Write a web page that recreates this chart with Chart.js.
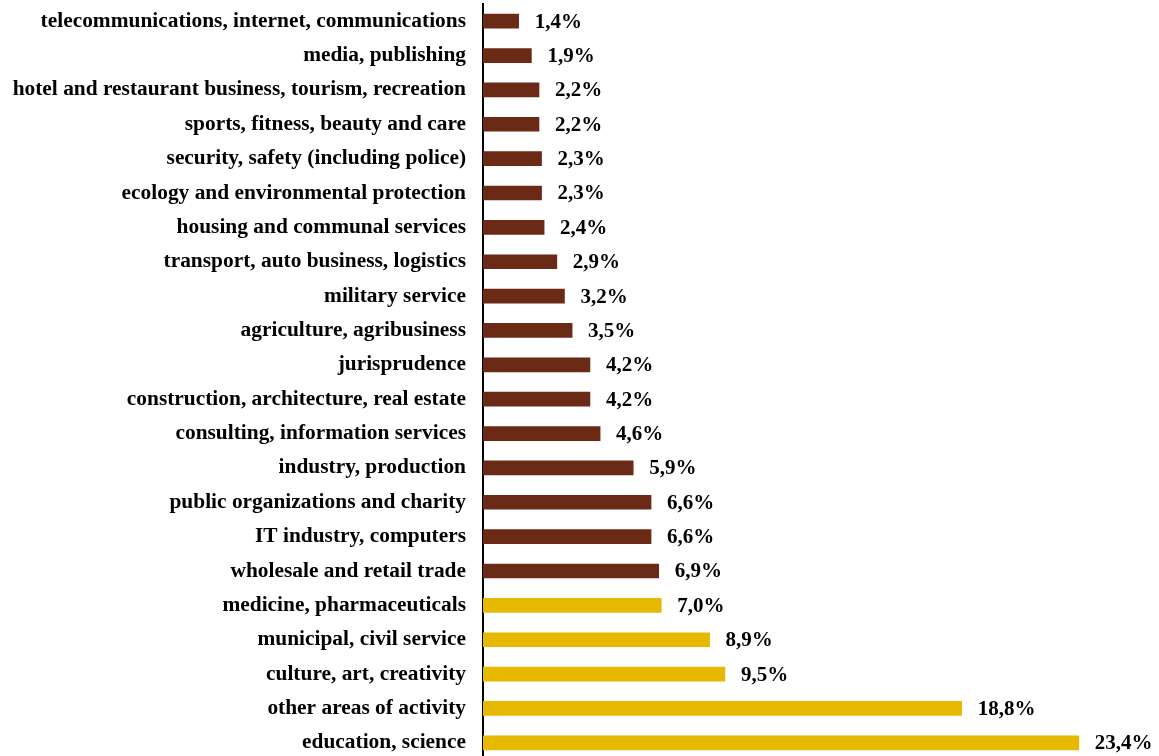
<!DOCTYPE html>
<html>
<head>
<meta charset="utf-8">
<script src="https://cdn.jsdelivr.net/npm/chart.js@4/dist/chart.umd.min.js"></script>
<style>
  html, body { margin: 0; padding: 0; background: #fff; overflow: hidden; }
  canvas { display: block; }
</style>
</head>
<body>
<canvas id="areas" width="1159" height="760"></canvas>
<script>
const categories = [
  'telecommunications, internet, communications',
  'media, publishing',
  'hotel and restaurant business, tourism, recreation',
  'sports, fitness, beauty and care',
  'security, safety (including police)',
  'ecology and environmental protection',
  'housing and communal services',
  'transport, auto business, logistics',
  'military service',
  'agriculture, agribusiness',
  'jurisprudence',
  'construction, architecture, real estate',
  'consulting, information services',
  'industry, production',
  'public organizations and charity',
  'IT industry, computers',
  'wholesale and retail trade',
  'medicine, pharmaceuticals',
  'municipal, civil service',
  'culture, art, creativity',
  'other areas of activity',
  'education, science'
];
const shares = [1.4, 1.9, 2.2, 2.2, 2.3, 2.3, 2.4, 2.9, 3.2, 3.5, 4.2, 4.2, 4.6, 5.9, 6.6, 6.6, 6.9, 7.0, 8.9, 9.5, 18.8, 23.4];
// the five largest areas are highlighted
const topAreas = ['medicine, pharmaceuticals', 'municipal, civil service', 'culture, art, creativity', 'other areas of activity', 'education, science'];

const BROWN = '#6b2a16';
const GOLD = '#e6b800';
const SERIF = '"Liberation Serif", "Times New Roman", serif';

const valueLabels = {
  id: 'valueLabels',
  afterDatasetsDraw(chart) {
    const ctx = chart.ctx;
    const meta = chart.getDatasetMeta(0);
    ctx.save();
    ctx.font = 'bold 21px ' + SERIF;
    ctx.fillStyle = '#000';
    ctx.textAlign = 'left';
    ctx.textBaseline = 'middle';
    meta.data.forEach((bar, i) => {
      const txt = shares[i].toFixed(1).replace('.', ',') + '%';
      ctx.fillText(txt, bar.x + 16, bar.y + 1);
    });
    ctx.restore();
  }
};

new Chart(document.getElementById('areas'), {
  type: 'bar',
  data: {
    labels: categories,
    datasets: [{
      data: shares,
      backgroundColor: categories.map(c => topAreas.includes(c) ? GOLD : BROWN),
      barThickness: 14,
      borderWidth: 0
    }]
  },
  options: {
    responsive: false,
    indexAxis: 'y',
    animation: false,
    layout: { padding: { top: 4, right: 14, bottom: 0, left: 0 } },
    plugins: {
      legend: { display: false },
      tooltip: { enabled: false }
    },
    scales: {
      x: {
        display: false,
        min: 0,
        max: 26
      },
      y: {
        grid: { display: false, drawTicks: false },
        border: { display: true, color: '#000', width: 2 },
        afterFit(scale) {
          scale.width = 483;
          // no extra room above/below the first and last rows
          scale.paddingTop = 0;
          scale.paddingBottom = 0;
        },
        ticks: {
          color: '#000',
          padding: 17,
          autoSkip: false,
          font: { family: SERIF, size: 21.4, weight: 'bold' }
        }
      }
    }
  },
  plugins: [valueLabels]
});
</script>
</body>
</html>
